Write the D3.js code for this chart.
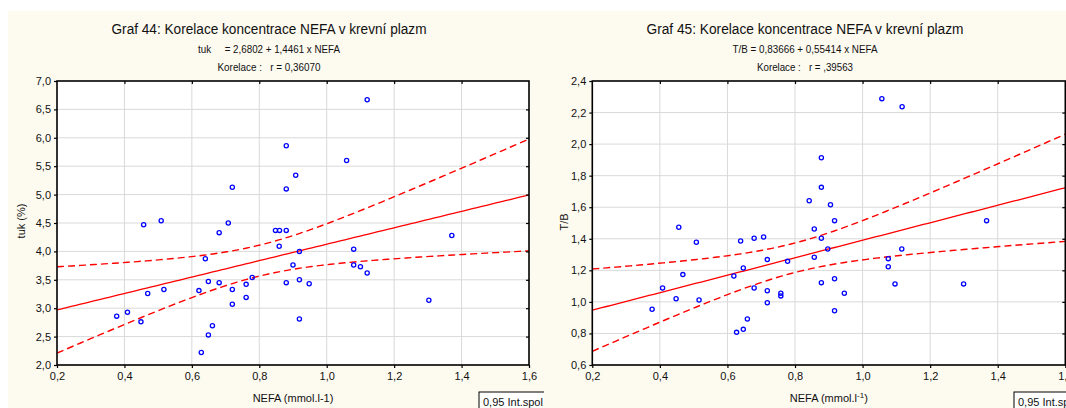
<!DOCTYPE html>
<html><head><meta charset="utf-8">
<script src="https://cdn.jsdelivr.net/npm/d3@7/dist/d3.min.js"></script>
<style>
html,body{margin:0;padding:0;background:#fff;}
svg{display:block;}
text{font-family:"Liberation Sans",Arial,sans-serif;fill:#111;}
</style></head>
<body>
<svg id="c" width="1066" height="408"></svg>
<script>
// ---------- data ----------
const xTicks = [0.2, 0.4, 0.6, 0.8, 1.0, 1.2, 1.4, 1.6];
const xTickLabels = ["0,2", "0,4", "0,6", "0,8", "1,0", "1,2", "1,4", "1,6"];
const yTicks44 = [2.0, 2.5, 3.0, 3.5, 4.0, 4.5, 5.0, 5.5, 6.0, 6.5, 7.0];
const yTickLabels44 = ["2,0", "2,5", "3,0", "3,5", "4,0", "4,5", "5,0", "5,5", "6,0", "6,5", "7,0"];
const yTicks45 = [0.6, 0.8, 1.0, 1.2, 1.4, 1.6, 1.8, 2.0, 2.2, 2.4];
const yTickLabels45 = ["0,6", "0,8", "1,0", "1,2", "1,4", "1,6", "1,8", "2,0", "2,2", "2,4"];

const nefa44 = [0.377, 0.409, 0.449, 0.457, 0.469, 0.509, 0.517, 0.621, 0.628, 0.640,
  0.649, 0.649, 0.661, 0.681, 0.681, 0.708, 0.720, 0.720, 0.720, 0.761,
  0.761, 0.779, 0.848, 0.860, 0.880, 0.859, 0.880, 0.880, 0.880, 0.900,
  0.908, 0.919, 0.919, 0.919, 0.948, 1.059, 1.080, 1.080, 1.100, 1.120,
  1.120, 1.303, 1.371];
const tuk = [2.86, 2.93, 2.76, 4.47, 3.26, 4.54, 3.33, 3.31, 2.22, 3.87,
  3.47, 2.53, 2.69, 4.33, 3.45, 4.50, 5.13, 3.33, 3.07, 3.42,
  3.19, 3.54, 4.37, 4.37, 4.37, 4.09, 5.86, 5.10, 3.45, 3.76,
  5.34, 4.00, 3.50, 2.81, 3.43, 5.60, 4.04, 3.76, 3.73, 3.62,
  6.67, 3.14, 4.28];

const nefa45 = [0.377, 0.408, 0.448, 0.456, 0.468, 0.508, 0.516, 0.619, 0.627, 0.639,
  0.647, 0.647, 0.659, 0.679, 0.679, 0.707, 0.718, 0.718, 0.718, 0.758,
  0.758, 0.778, 0.842, 0.857, 0.857, 0.878, 0.878, 0.878, 0.878, 0.897,
  0.905, 0.917, 0.917, 0.917, 0.946, 1.057, 1.076, 1.076, 1.096, 1.116,
  1.117, 1.299, 1.367];
const tb = [0.953, 1.088, 1.020, 1.473, 1.173, 1.378, 1.012, 1.164, 0.807, 1.386,
  1.215, 0.826, 0.892, 1.403, 1.088, 1.411, 1.268, 1.071, 0.995, 1.055,
  1.038, 1.257, 1.641, 1.462, 1.283, 1.914, 1.726, 1.403, 1.122, 1.335,
  1.616, 1.515, 1.147, 0.944, 1.055, 2.288, 1.274, 1.223, 1.114, 1.335,
  2.237, 1.114, 1.515];

const coef44 = [2.6802, 1.4461];
const coef45 = [0.83666, 0.55414];
const tCrit = 2.0195; // t(0.975, df=41)

// ---------- drawing ----------
const svg = d3.select("#c");
svg.append("rect").attr("x", 8).attr("y", 11).attr("width", 1058).attr("height", 397).attr("fill", "#fdfaf0");

function bands(xs, ys, coef) {
  const n = xs.length;
  const xbar = d3.mean(xs);
  const sxx = d3.sum(xs, x => (x - xbar) * (x - xbar));
  const sse = d3.sum(xs.map((x, i) => { const r = ys[i] - (coef[0] + coef[1] * x); return r * r; }));
  const s = Math.sqrt(sse / (n - 2));
  return x => tCrit * s * Math.sqrt(1 / n + (x - xbar) * (x - xbar) / sxx);
}

function panel(o) {
  const g = svg.append("g");
  if (o.clip) {
    const id = "clip" + o.id;
    svg.append("clipPath").attr("id", id).append("rect")
      .attr("x", o.clip[0]).attr("y", 0).attr("width", o.clip[1] - o.clip[0]).attr("height", 408);
    g.attr("clip-path", `url(#${id})`);
  }
  const x = d3.scaleLinear().domain([xTicks[0], xTicks[xTicks.length - 1]]).range(o.xr);
  const y = d3.scaleLinear().domain([o.yTicks[0], o.yTicks[o.yTicks.length - 1]]).range(o.yr);
  const [x0, x1] = o.xr, [y1, y0] = o.yr;

  g.append("rect").attr("x", x0).attr("y", y0).attr("width", x1 - x0).attr("height", y1 - y0).attr("fill", "#fff");

  // grid
  g.append("g").selectAll("line").data(xTicks.slice(1, -1)).join("line")
    .attr("x1", d => x(d)).attr("x2", d => x(d)).attr("y1", y0).attr("y2", y1)
    .attr("stroke", "#d9d9d9").attr("stroke-width", 1);
  g.append("g").selectAll("line").data(o.yTicks.slice(1, -1)).join("line")
    .attr("y1", d => y(d)).attr("y2", d => y(d)).attr("x1", x0).attr("x2", x1)
    .attr("stroke", "#d9d9d9").attr("stroke-width", 1);

  // clip for data lines
  const cid = "pc" + o.id;
  svg.append("clipPath").attr("id", cid).append("rect")
    .attr("x", x0).attr("y", y0).attr("width", x1 - x0).attr("height", y1 - y0);
  const pg = g.append("g").attr("clip-path", `url(#${cid})`);

  const hw = bands(o.xs, o.ys, o.coef);
  const xsLine = d3.range(0, 101).map(i => xTicks[0] + (xTicks[xTicks.length - 1] - xTicks[0]) * i / 100);
  const fit = xv => o.coef[0] + o.coef[1] * xv;
  const line = d3.line().x(d => x(d[0])).y(d => y(d[1]));
  pg.append("path").attr("d", line(xsLine.map(v => [v, fit(v)])))
    .attr("fill", "none").attr("stroke", "#ff0000").attr("stroke-width", 1.3);
  [1, -1].forEach(sg => {
    pg.append("path").attr("d", line(xsLine.map(v => [v, fit(v) + sg * hw(v)])))
      .attr("fill", "none").attr("stroke", "#ff0000").attr("stroke-width", 1.4)
      .attr("stroke-dasharray", "7,4");
  });

  // points
  pg.append("g").selectAll("circle").data(o.xs.map((v, i) => [v, o.ys[i]])).join("circle")
    .attr("cx", d => x(d[0])).attr("cy", d => y(d[1])).attr("r", 2.1)
    .attr("fill", "none").attr("stroke", "#0000ff").attr("stroke-width", 1.3);

  // frame
  g.append("rect").attr("x", x0).attr("y", y0).attr("width", x1 - x0).attr("height", y1 - y0)
    .attr("fill", "none").attr("stroke", "#000").attr("stroke-width", 1.6);

  // axes
  const ax = g.append("g").attr("transform", `translate(0,${y1})`)
    .call(d3.axisBottom(x).tickValues(xTicks).tickFormat((d, i) => xTickLabels[i]).tickSize(3).tickPadding(4));
  const ay = g.append("g").attr("transform", `translate(${x0},0)`)
    .call(d3.axisLeft(y).tickValues(o.yTicks).tickFormat((d, i) => o.yTickLabels[i]).tickSize(3).tickPadding(3));
  [ax, ay].forEach(a => {
    a.select(".domain").remove();
    a.selectAll("line").attr("stroke", "#000").attr("stroke-width", 1.2);
    a.selectAll("text").attr("font-size", 11).attr("fill", "#111")
      .attr("font-family", '"Liberation Sans",Arial,sans-serif');
  });
  // inner ticks on top/right
  g.append("g").call(d3.axisBottom(x).tickValues(xTicks.slice(1, -1)).tickSize(3).tickFormat(""))
    .attr("transform", `translate(0,${y0})`).call(a => { a.select(".domain").remove(); a.selectAll("line").attr("stroke", "#000").attr("stroke-width", 1.2); });
  g.append("g").call(d3.axisRight(y).tickValues(o.yTicks.slice(1, -1)).tickSize(-3).tickFormat(""))
    .attr("transform", `translate(${x1},0)`).call(a => { a.select(".domain").remove(); a.selectAll("line").attr("stroke", "#000").attr("stroke-width", 1.2); });

  // titles
  g.append("text").attr("x", o.cx).attr("y", 34).attr("text-anchor", "middle")
    .attr("font-size", 14).attr("textLength", o.titleLen).attr("lengthAdjust", "spacingAndGlyphs").text(o.title);
  g.append("text").attr("x", o.cx).attr("y", 53).attr("text-anchor", "middle")
    .attr("font-size", 11).style("white-space", "pre").attr("textLength", o.eqLen).attr("lengthAdjust", "spacingAndGlyphs").text(o.eq);
  g.append("text").attr("x", o.cx).attr("y", 71).attr("text-anchor", "middle")
    .attr("font-size", 11).style("white-space", "pre").attr("textLength", o.korLen).attr("lengthAdjust", "spacingAndGlyphs").text(o.kor);

  // axis labels
  const xl = g.append("text").attr("x", (x0 + x1) / 2).attr("y", 402).attr("text-anchor", "middle").attr("font-size", 11);
  o.xLabel(xl);
  g.append("text").attr("transform", `translate(${o.ylx},${o.yly}) rotate(-90)`).attr("text-anchor", "middle")
    .attr("font-size", 11).text(o.yLabel);

  // legend box
  g.append("rect").attr("x", o.legX).attr("y", 392).attr("width", 70).attr("height", 30)
    .attr("fill", "#fff").attr("stroke", "#000").attr("stroke-width", 1);
  g.append("text").attr("x", o.legX + 4).attr("y", 406).attr("font-size", 11).text("0,95 Int.spol.");
}

panel({
  id: "a", clip: [0, 544], xr: [57, 529], yr: [365, 81],
  yTicks: yTicks44, yTickLabels: yTickLabels44, xs: nefa44, ys: tuk, coef: coef44,
  cx: 269, title: "Graf 44: Korelace koncentrace NEFA v krevní plazm", titleLen: 315,
  eq: "tuk     = 2,6802 + 1,4461 x NEFA", eqLen: 142,
  kor: "Korelace :   r = 0,36070", korLen: 103,
  xLabel: t => t.text("NEFA (mmol.l-1)"),
  yLabel: "tuk (%)", ylx: 25, yly: 221, legX: 479
});

panel({
  id: "b", clip: null, xr: [592.3, 1065.3], yr: [365, 81],
  yTicks: yTicks45, yTickLabels: yTickLabels45, xs: nefa45, ys: tb, coef: coef45,
  cx: 805, title: "Graf 45: Korelace koncentrace NEFA v krevní plazm", titleLen: 317,
  eq: "T/B = 0,83666 + 0,55414 x NEFA", eqLen: 145,
  kor: "Korelace :   r = ,39563", korLen: 96,
  xLabel: t => { t.append("tspan").text("NEFA (mmol.l"); t.append("tspan").attr("baseline-shift", "super").attr("font-size", 8).text("-1"); t.append("tspan").text(")"); },
  yLabel: "T/B", ylx: 568, yly: 222, legX: 1014
});
</script>
</body></html>
